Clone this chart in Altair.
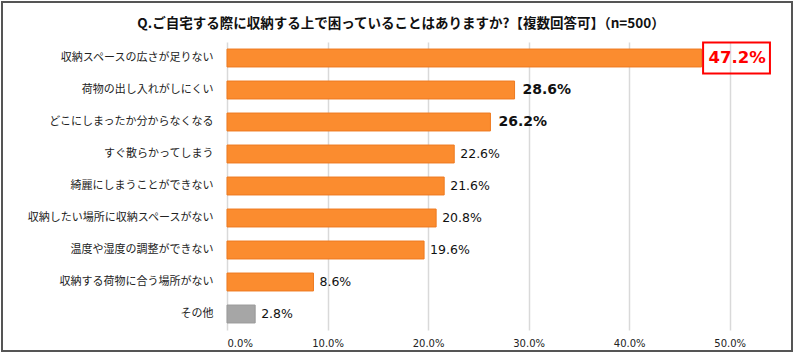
import altair as alt
import pandas as pd

categories = [
    "収納スペースの広さが足りない",
    "荷物の出し入れがしにくい",
    "どこにしまったか分からなくなる",
    "すぐ散らかってしまう",
    "綺麗にしまうことができない",
    "収納したい場所に収納スペースがない",
    "温度や湿度の調整ができない",
    "収納する荷物に合う場所がない",
    "その他",
]
values = [47.2, 28.6, 26.2, 22.6, 21.6, 20.8, 19.6, 8.6, 2.8]
emphasis = ["top", "bold", "bold", "normal", "normal", "normal", "normal", "normal", "normal"]
bar_kind = ["main"] * 8 + ["other"]
x_ticks = [0, 10, 20, 30, 40, 50]
title_text = "Q.ご自宅する際に収納する上で困っていることはありますか?【複数回答可】（n=500）"

df = pd.DataFrame({
    "category": categories,
    "value": values,
    "emph": emphasis,
    "kind": bar_kind,
})
df["label"] = df["value"].map(lambda v: f"{v:.1f}%")

JP = "Noto Sans CJK JP"
NUM = "DejaVu Sans"

base = alt.Chart(df)

y_enc = alt.Y(
    "category:N",
    sort=categories,
    title=None,
    scale=alt.Scale(paddingInner=0.44, paddingOuter=0.22),
)
x_enc = alt.X(
    "value:Q",
    title=None,
    scale=alt.Scale(domain=[0, 55], nice=False),
    axis=alt.Axis(values=x_ticks, labelExpr="format(datum.value, '.1f') + '%'"),
)
y_plain = alt.Y("category:N", sort=categories, title=None)
x_plain = alt.X("value:Q", title=None)

bars = base.mark_bar(strokeWidth=1).encode(
    y=y_enc,
    x=x_enc,
    color=alt.Color("kind:N", scale=alt.Scale(domain=["main", "other"], range=["#FB8C2F", "#A6A6A6"]), legend=None),
    stroke=alt.Stroke("kind:N", scale=alt.Scale(domain=["main", "other"], range=["#EE7A20", "#999999"]), legend=None),
)

box = base.transform_filter(alt.datum.emph == "top").transform_calculate(
    bx=alt.datum.value + 0.15, bx2=alt.datum.value + 6.8
).mark_bar(filled=False, stroke="#FF0000", strokeWidth=2, size=31).encode(
    y=y_plain,
    x=alt.X("bx:Q", title=None),
    x2="bx2:Q",
)

lbl_top = base.transform_filter(alt.datum.emph == "top").mark_text(
    align="left", baseline="middle", dx=7, font=NUM, fontSize=16.5, fontWeight="bold", color="#FF0000"
).encode(y=y_plain, x=x_plain, text="label:N")

lbl_bold = base.transform_filter(alt.datum.emph == "bold").mark_text(
    align="left", baseline="middle", dx=8, font=NUM, fontSize=14, fontWeight="bold", color="#111111"
).encode(y=y_plain, x=x_plain, text="label:N")

lbl_norm = base.transform_filter(alt.datum.emph == "normal").mark_text(
    align="left", baseline="middle", dx=6, font=NUM, fontSize=12.5, color="#111111"
).encode(y=y_plain, x=x_plain, text="label:N")

one = pd.DataFrame({"t": [title_text]})
title = alt.Chart(one).mark_text(
    align="center", baseline="middle", font=JP, fontSize=13.5, fontWeight="bold", color="#111111"
).encode(x=alt.value(174), y=alt.value(-18), text="t:N")

frame = alt.Chart(pd.DataFrame({"a": [0]})).mark_rect(
    filled=False, stroke="#555555", strokeWidth=2
).encode(
    x=alt.value(-225), x2=alt.value(565), y=alt.value(-40), y2=alt.value(309)
)

chart = alt.layer(bars, box, lbl_top, lbl_bold, lbl_norm, title, frame).properties(
    width=553,
    height=288,
    background="white",
    autosize=alt.AutoSizeParams(type="none"),
    padding={"left": 227, "top": 42, "right": 20, "bottom": 23},
).configure_view(
    stroke=None
).configure_axisX(
    ticks=False, domain=False, grid=True, gridColor="#D9D9D9", gridWidth=1.5,
    labelFont=NUM, labelFontSize=10, labelColor="#222222", labelPadding=8,
).configure_axisY(
    ticks=False, domain=False, grid=False, labelFont=JP, labelFontSize=11,
    labelColor="#222222", labelPadding=14, labelLimit=250,
)

chart.save("out.html", embed_options={"renderer": "svg", "actions": False})
